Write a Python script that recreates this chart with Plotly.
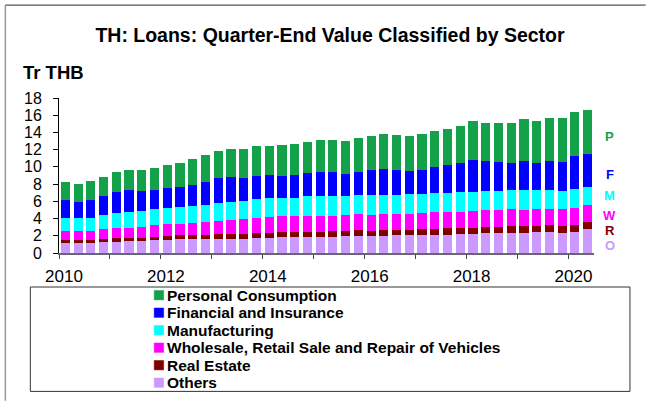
import plotly.graph_objects as go

# Quarters 2010Q1 .. 2020Q2
quarters = [f"{y}Q{q}" for y in range(2010, 2021) for q in range(1, 5)][:42]

others = [1.12, 1.12, 1.12, 1.24, 1.32, 1.36, 1.36, 1.47, 1.55, 1.63,
          1.66, 1.66, 1.66, 1.66, 1.66, 1.70, 1.74, 1.82, 1.82, 1.86,
          1.90, 1.90, 1.94, 2.01, 1.97, 2.01, 2.09, 2.09, 2.09, 2.13,
          2.13, 2.21, 2.21, 2.28, 2.28, 2.32, 2.32, 2.40, 2.44, 2.36,
          2.44, 2.75]
real_estate = [0.39, 0.39, 0.39, 0.39, 0.38, 0.38, 0.38, 0.43, 0.42, 0.42,
               0.43, 0.47, 0.51, 0.55, 0.59, 0.62, 0.62, 0.62, 0.62, 0.62,
               0.58, 0.62, 0.65, 0.66, 0.62, 0.66, 0.62, 0.62, 0.66, 0.70,
               0.73, 0.65, 0.69, 0.70, 0.74, 0.78, 0.78, 0.77, 0.77, 0.78,
               0.81, 0.85]
wholesale = [1.01, 1.01, 1.01, 1.12, 1.16, 1.20, 1.32, 1.31, 1.36, 1.36,
             1.39, 1.47, 1.55, 1.62, 1.66, 1.75, 1.78, 1.82, 1.82, 1.86,
             1.82, 1.82, 1.78, 1.82, 1.86, 1.86, 1.86, 1.86, 1.90, 1.89,
             1.90, 1.94, 1.94, 1.98, 1.97, 2.01, 1.93, 1.98, 1.94, 1.93,
             1.98, 1.94]
manufacturing = [1.58, 1.58, 1.58, 1.70, 1.79, 1.86, 1.86, 1.90, 1.86, 1.93,
                 1.98, 1.97, 2.05, 2.09, 2.13, 2.16, 2.21, 2.17, 2.17, 2.24,
                 2.28, 2.32, 2.29, 2.28, 2.25, 2.21, 2.20, 2.24, 2.24, 2.25,
                 2.25, 2.25, 2.24, 2.28, 2.25, 2.25, 2.25, 2.17, 2.13, 2.13,
                 2.16, 2.16]
financial = [2.06, 1.86, 2.02, 2.13, 2.47, 2.48, 2.24, 2.17, 2.32, 2.33,
             2.48, 2.64, 2.94, 2.91, 2.71, 2.75, 2.67, 2.55, 2.63, 2.67,
             2.79, 2.71, 2.52, 2.60, 2.94, 3.05, 2.87, 2.75, 2.79, 3.06,
             3.21, 3.40, 3.76, 3.41, 3.33, 3.09, 3.44, 3.13, 3.44, 3.41,
             3.91, 3.80]
personal = [2.05, 2.09, 2.20, 2.25, 2.33, 2.40, 2.48, 2.55, 2.71, 2.78,
            2.94, 3.13, 3.14, 3.25, 3.29, 3.41, 3.45, 3.52, 3.56, 3.68,
            3.72, 3.79, 3.79, 3.95, 3.91, 3.99, 4.03, 4.07, 4.10, 4.14,
            4.22, 4.34, 4.45, 4.49, 4.57, 4.69, 4.80, 4.88, 4.92, 5.07,
            5.11, 5.11]

series_names = ["Others", "Real Estate",
                "Wholesale, Retail Sale and Repair of Vehicles",
                "Manufacturing", "Financial and Insurance", "Personal Consumption"]
series_values = [others, real_estate, wholesale, manufacturing, financial, personal]
series_colors = ["#cc99ff", "#800000", "#ff00ff", "#00ffff", "#0000ff", "#13a24a"]
short_labels = ["O", "R", "W", "M", "F", "P"]

year_ticks = list(range(2010, 2021))
year_labels = [str(y) if y % 2 == 0 else "" for y in year_ticks]

# numeric x position at the middle of each quarter
xpos = [int(q[:4]) + (int(q[-1]) - 0.5) / 4 for q in quarters]

FONT = "Liberation Sans, Arial, sans-serif"

fig = go.Figure()
for name, vals, col in zip(series_names, series_values, series_colors):
    fig.add_trace(go.Bar(x=xpos, y=vals, name=name, marker_color=col,
                         marker_line_width=0, showlegend=False))

L, R, T, B = 58.7, 51.7, 98.3, 147.7
W, H = 646, 401
pw, ph = W - L - R, H - T - B

def px_x(p):
    return (p - L) / pw

def px_y(p):
    return (H - B - p) / ph

fig.update_layout(
    width=W, height=H,
    margin=dict(l=L, r=R, t=T, b=B, autoexpand=False),
    paper_bgcolor="white", plot_bgcolor="white",
    barmode="stack", bargap=0.28,
    font=dict(family=FONT, color="black", size=16),
    title=dict(text="<b>TH: Loans: Quarter-End Value Classified by Sector</b>",
               x=330 / W, xanchor="center", y=1 - 35 / H, yanchor="middle",
               font=dict(family=FONT, size=19.5, color="black")),
    xaxis=dict(range=[2010, 2020.5], tickmode="array", tickvals=year_ticks,
               ticktext=year_labels, ticks="outside", ticklen=4, tickcolor="#444",
               showline=True, linecolor="#666677", linewidth=2, showgrid=False,
               zeroline=False, tickfont=dict(size=17), ticklabelshift=5,
               ticklabelstandoff=3),
    yaxis=dict(range=[0, 18], dtick=2, ticks="outside", ticklen=5,
               tickcolor="black", showline=True, linecolor="black", linewidth=1,
               showgrid=False, zeroline=False, tickfont=dict(size=16),
               ticklabelstandoff=8),
    showlegend=False,
)

# legend frame
fig.add_shape(type="rect", xref="paper", yref="paper",
              x0=px_x(30), x1=px_x(630.3), y0=px_y(391.7), y1=px_y(287.3),
              line=dict(color="#333333", width=1), fillcolor="rgba(0,0,0,0)", layer="below")
# legend entries: Personal Consumption on top, Others at bottom
row_y = [295.5, 313, 330.5, 348, 365.5, 383]
for i, (name, col) in enumerate(zip(reversed(series_names), reversed(series_colors))):
    yc = row_y[i]
    fig.add_shape(type="rect", xref="paper", yref="paper",
                  x0=px_x(154), x1=px_x(163.5), y0=px_y(yc + 4.7), y1=px_y(yc - 4.7),
                  line=dict(color=col, width=0.5), fillcolor=col)
    fig.add_annotation(text=f"<b>{name}</b>", xref="paper", yref="paper",
                       x=px_x(165), y=px_y(yc), xanchor="left", yanchor="middle",
                       showarrow=False,
                       font=dict(family=FONT, size=15.5, color="black"))

# outer frame (left and top edges)
fig.add_shape(type="line", xref="paper", yref="paper",
              x0=px_x(5), x1=px_x(5), y0=px_y(401), y1=px_y(5.5),
              line=dict(color="#999999", width=1.5))
fig.add_shape(type="line", xref="paper", yref="paper",
              x0=px_x(5), x1=px_x(646), y0=px_y(5.5), y1=px_y(5.5),
              line=dict(color="#555555", width=1.2))

# unit label
fig.add_annotation(text="<b>Tr THB</b>", xref="paper", yref="paper",
                   x=px_x(21), y=px_y(73), xanchor="left", yanchor="middle",
                   showarrow=False, font=dict(family=FONT, size=18.5, color="black"))

# right side series letters
label_y = [0.88, 2.62, 4.33, 6.65, 9.09, 13.54]
for lab, col, yv in zip(short_labels, series_colors, label_y):
    fig.add_annotation(text=f"<b>{lab}</b>", xref="paper", yref="y",
                       x=px_x(610), y=yv, xanchor="center", yanchor="middle",
                       showarrow=False, font=dict(family=FONT, size=13, color=col))

fig.write_html("out.html", config={"displayModeBar": False},
               post_script=("document.body.style.margin='0';"
                            "document.body.style.overflow='hidden';"
                            "document.documentElement.style.overflow='hidden';"))
